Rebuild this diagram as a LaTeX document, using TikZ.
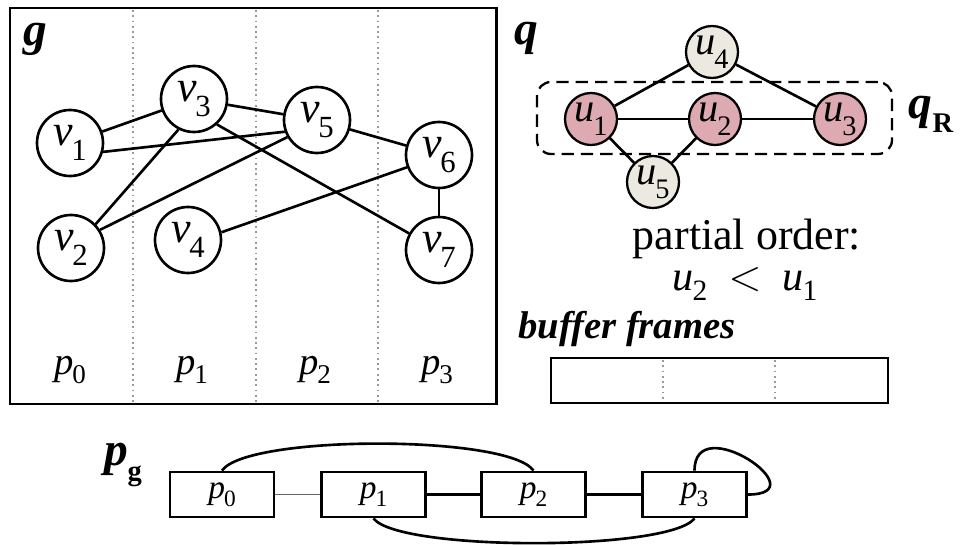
\documentclass[tikz,border=0pt]{standalone}
\usepackage{graphicx}
\usepackage{fontspec}
\setmainfont{Liberation Serif}

\definecolor{rpink}{RGB}{222,170,178}
\definecolor{rbeige}{RGB}{236,234,224}

\newcommand{\lab}[2]{\textit{#1}\kern-0.03em\raisebox{-0.35em}{\scalebox{0.7}{#2}}}
\newcommand{\slab}[2]{\textit{#1}\kern-0.03em\raisebox{-0.25em}{\scalebox{0.7}{#2}}}
\newcommand{\blab}[2]{#1\raisebox{-0.3em}{\scalebox{0.6}{\upshape #2}}}

\begin{document}
\begin{tikzpicture}[
x=0.2mm, y=-0.2mm,
vnode/.style={draw, circle, line width=1.5pt, minimum size=1.32cm, inner sep=0pt, font=\fontsize{25}{27}\selectfont},
unode/.style={draw, circle, line width=1.3pt, minimum size=1.04cm, inner sep=0pt, font=\fontsize{23}{25}\selectfont},
pbox/.style={draw, line width=1.6pt, minimum width=2.08cm, minimum height=0.9cm, inner sep=0pt, font=\fontsize{19}{21}\selectfont},
plab/.style={inner sep=0pt, font=\fontsize{22}{24}\selectfont},
edge/.style={line width=1.5pt},
sep/.style={gray!80, line width=0.8pt, dash pattern=on 1pt off 2pt},
title/.style={inner sep=0pt, font=\fontsize{27}{29}\selectfont\bfseries\itshape}
]
\useasboundingbox (0,0) rectangle (961,545);

\draw[line width=1.7pt] (10,8) rectangle (496,404);
\foreach \x in {133,256,378}
  \draw[sep] (\x,10) -- (\x,402);

\node[title] (g) at (35,39) {g};

\node[vnode] (v1) at (70,143) {\lab{v}{1}};
\node[vnode] (v2) at (71,248) {\lab{v}{2}};
\node[vnode] (v3) at (194,99) {\lab{v}{3}};
\node[vnode] (v4) at (188,240) {\lab{v}{4}};
\node[vnode] (v5) at (317,120) {\lab{v}{5}};
\node[vnode] (v6) at (439,155) {\lab{v}{6}};
\node[vnode] (v7) at (439,250) {\lab{v}{7}};

\draw[edge] (v1) -- (v3);
\draw[edge] (v1.-15) -- (v5.200);
\draw[edge] (v2.44) -- (v3.243);
\draw[edge] (v2.32) -- (v5.210);
\draw[edge] (v3) -- (v5);
\draw[edge] (v3.-48) -- (v7.151);
\draw[edge] (v5) -- (v6);
\draw[edge] (v4.13) -- (v6.201);
\draw[edge] (v6) -- (v7);

\node[plab] (p0) at (70,370) {\slab{p}{0}};
\node[plab] (p1) at (192,370) {\slab{p}{1}};
\node[plab] (p2) at (315,370) {\slab{p}{2}};
\node[plab] (p3) at (437,370) {\slab{p}{3}};

\node[title] (q) at (526,38) {q};

\node[draw, line width=1.3pt, dash pattern=on 7pt off 4pt, rounded corners=8pt, minimum width=7.1cm, minimum height=1.44cm] (qR) at (714.5,118) {};
\node[title] (qRlab) at (931,114) {\blab{q}{R}};

\node[unode, fill=rbeige] (u4) at (712,52) {\lab{u}{4}};
\node[unode, fill=rpink] (u1) at (591,119) {\lab{u}{1}};
\node[unode, fill=rpink] (u2) at (715,119) {\lab{u}{2}};
\node[unode, fill=rpink] (u3) at (840,119) {\lab{u}{3}};
\node[unode, fill=rbeige] (u5) at (653,182) {\lab{u}{5}};

\draw[edge] (u4) -- (u1);
\draw[edge] (u4) -- (u3);
\draw[edge] (u1) -- (u2);
\draw[edge] (u2) -- (u3);
\draw[edge] (u1) -- (u5);
\draw[edge] (u2) -- (u5);

\node[font=\fontsize{25}{27}\selectfont] (po) at (747,239) {partial order:};
\node[font=\fontsize{24}{26}\selectfont, inner sep=1pt] (ord) at (745,284) {\slab{u}{2}\ \ $<$\ \ \slab{u}{1}};

\node[font=\fontsize{22}{24}\selectfont\bfseries\itshape, inner sep=1pt] (bf) at (627,329) {buffer frames};
\node[draw, line width=1.6pt, minimum width=6.74cm, minimum height=0.9cm] (buf) at (719.5,380.5) {};
\foreach \x in {663,775}
  \draw[sep] (\x,360) -- (\x,401);

\node[title] (pg) at (123,465) {\blab{p}{g}};

\node[pbox] (P0) at (222,494.5) {\slab{p}{0}};
\node[pbox] (P1) at (373.5,494.5) {\slab{p}{1}};
\node[pbox] (P2) at (533.5,494.5) {\slab{p}{2}};
\node[pbox] (P3) at (694.5,494.5) {\slab{p}{3}};

\draw[line width=0.8pt, black!60] (P0) -- (P1);
\draw[edge] (P1) -- (P2);
\draw[edge] (P2) -- (P3);
\draw[edge] (P0.north) .. controls +(25,-36) and +(-25,-36) .. (P2.north);
\draw[edge] (P1.south) .. controls +(25,33) and +(-25,33) .. (P3.south);
\draw[edge] (P3.north) .. controls +(0,-62) and +(72,0) .. (P3.east);

\end{tikzpicture}
\end{document}
